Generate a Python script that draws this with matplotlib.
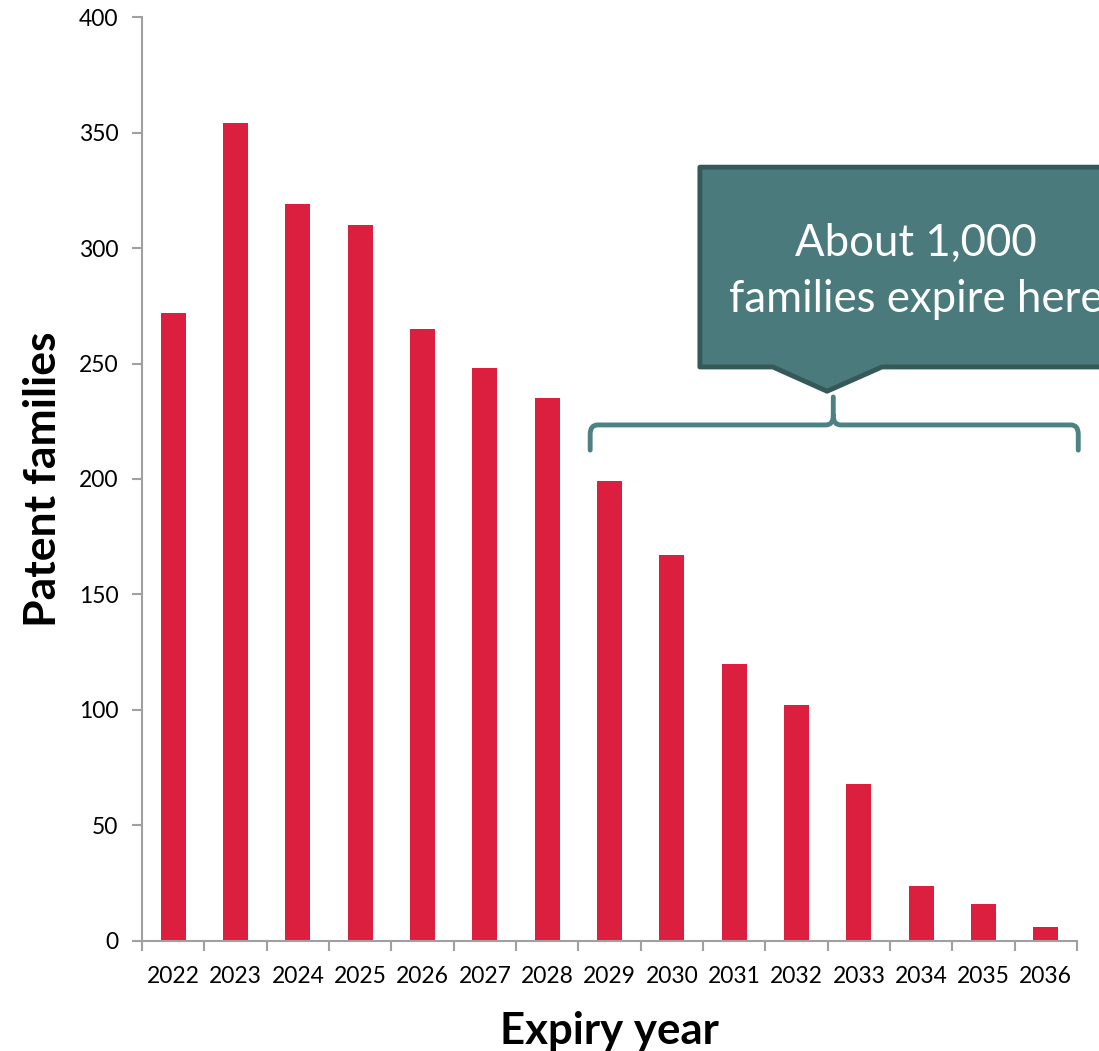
import matplotlib
matplotlib.use("Agg")
import matplotlib.pyplot as plt
from matplotlib.path import Path
from matplotlib.patches import PathPatch, Polygon

plt.rcParams['font.family'] = ['Lato', 'DejaVu Sans']

years = ['2022', '2023', '2024', '2025', '2026', '2027', '2028', '2029',
         '2030', '2031', '2032', '2033', '2034', '2035', '2036']
families = [272, 354, 319, 310, 265, 248, 235, 199, 167, 120, 102, 68, 24, 16, 6]
y_ticks = [0, 50, 100, 150, 200, 250, 300, 350, 400]

bar_color = '#DC1F3F'
axis_gray = '#A0A0A0'
teal = '#4A7A7C'
teal_dark = '#355858'
bracket_color = '#4E8183'

fig = plt.figure(figsize=(10.99, 10.51), dpi=100)
ax = fig.add_axes([0.1292, 0.1047, 0.8508, 0.8791])

x = list(range(len(years)))
ax.bar(x, families, width=0.4, color=bar_color, zorder=2)

ax.set_xlim(-0.5, len(years) - 0.5)
ax.set_ylim(0, 400)
ax.set_yticks(y_ticks)
ax.set_xticks(x)
ax.set_xticklabels(years)
# ticks between categories on the x axis
ax.set_xticks([i - 0.5 for i in range(len(years) + 1)], minor=True)
ax.tick_params(axis='x', which='major', length=0, pad=18, labelsize=16.5)
ax.tick_params(axis='x', which='minor', length=7, width=1.5, color=axis_gray, direction='out')
ax.tick_params(axis='y', length=7, width=1.5, color=axis_gray, labelsize=16.5, pad=10)

for side in ['top', 'right']:
    ax.spines[side].set_visible(False)
for side in ['left', 'bottom']:
    ax.spines[side].set_color(axis_gray)
    ax.spines[side].set_linewidth(1.5)

ax.set_xlabel('Expiry year', fontsize=31.5, fontweight='bold', labelpad=17)
ax.set_ylabel('Patent families', fontsize=32, fontweight='bold', labelpad=11)

# curly bracket over 2029-2036
xl, xr, xc = 6.69, 14.52, 10.59
yb, yt, ytip = 212.5, 223.4, 235.5
dx, dy = 0.12, 4.0
verts = [
    (xl, yb), (xl, yt - dy),
    (xl, yt), (xl + dx, yt),
    (xc - dx, yt),
    (xc, yt), (xc, yt + dy),
    (xc, ytip),
    (xc, yt + dy),
    (xc, yt), (xc + dx, yt),
    (xr - dx, yt),
    (xr, yt), (xr, yt - dy),
    (xr, yb),
]
codes = [Path.MOVETO, Path.LINETO,
         Path.CURVE3, Path.CURVE3,
         Path.LINETO,
         Path.CURVE3, Path.CURVE3,
         Path.LINETO,
         Path.MOVETO,
         Path.CURVE3, Path.CURVE3,
         Path.LINETO,
         Path.CURVE3, Path.CURVE3,
         Path.LINETO]
ax.add_patch(PathPatch(Path(verts, codes), facecolor='none', edgecolor=bracket_color,
                       linewidth=3.5, capstyle='round', joinstyle='round',
                       clip_on=False, zorder=3))

# callout box
callout = [(8.45, 335), (15.8, 335), (15.8, 248.5), (11.37, 248.5),
           (10.49, 238), (9.62, 248.5), (8.45, 248.5)]
ax.add_patch(Polygon(callout, closed=True, facecolor=teal, edgecolor=teal_dark,
                     linewidth=3.5, joinstyle='round', clip_on=False, zorder=4))
ax.text(11.92, 290.0, 'About 1,000\nfamilies expire here', color='white',
        fontsize=31.5, ha='center', va='center', linespacing=1.45, zorder=5)

fig.savefig('out.png', dpi=100)
